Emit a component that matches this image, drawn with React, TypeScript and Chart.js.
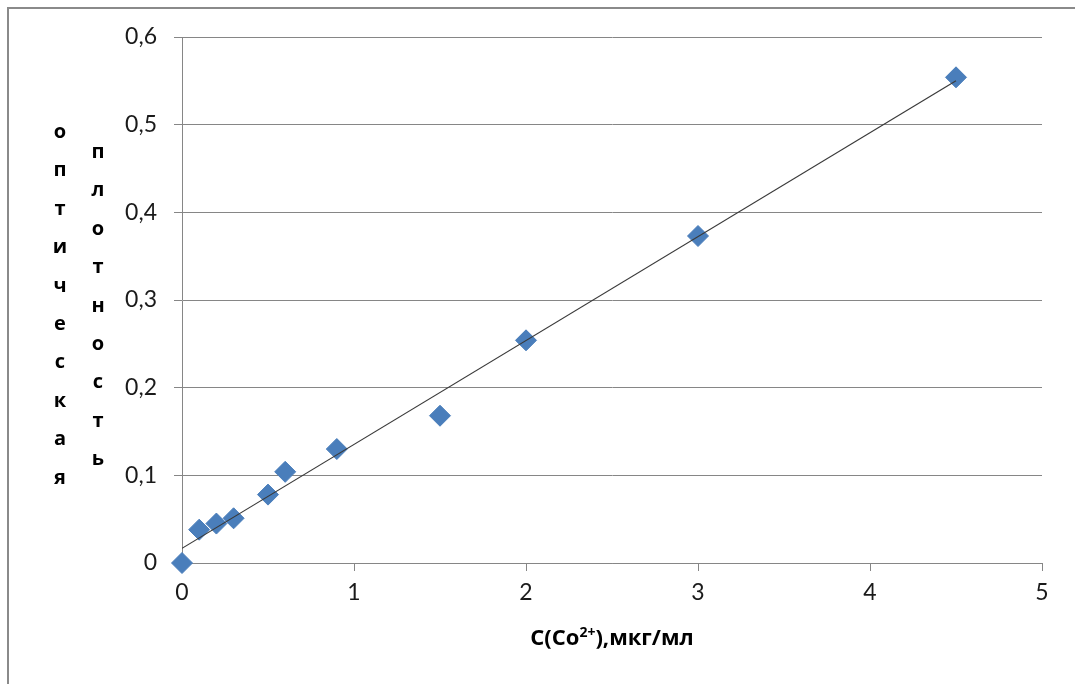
import React, { useEffect, useRef } from "react";
import { Chart, registerables } from "chart.js";

Chart.register(...registerables);

const concX = [0, 0.1, 0.2, 0.3, 0.5, 0.6, 0.9, 1.5, 2, 3, 4.5];
const density = [0, 0.038, 0.045, 0.051, 0.078, 0.104, 0.13, 0.168, 0.254, 0.373, 0.554];
const trendX = [0, 4.5];
const trendY = [0.0167, 0.55];
const xTicks = [0, 1, 2, 3, 4, 5];
const yTicks = [0, 0.1, 0.2, 0.3, 0.4, 0.5, 0.6];
const yTitleCol1 = "оптическая";
const yTitleCol2 = "плотность";
const xTitleParts = ["C(Co", "2+", "),мкг/мл"];

const GRAY = "#868686";

const decorPlugin = {
  id: "decor",
  beforeDraw(chart: any) {
    const ctx = chart.ctx;
    ctx.save();
    ctx.fillStyle = "#ffffff";
    ctx.fillRect(0, 0, chart.width, chart.height);
    ctx.strokeStyle = "#8a8a8a";
    ctx.lineWidth = 2;
    ctx.beginPath();
    ctx.moveTo(8, chart.height + 5);
    ctx.lineTo(8, 8);
    ctx.lineTo(chart.width + 5, 8);
    ctx.stroke();
    ctx.restore();
  },
  afterDraw(chart: any) {
    const ctx = chart.ctx;
    ctx.save();
    ctx.fillStyle = "#000000";
    ctx.font = "bold 20px 'Open Sans'";
    ctx.textAlign = "center";
    ctx.textBaseline = "alphabetic";
    const step = 38.4;
    Array.from(yTitleCol1).forEach((ch, i) => {
      ctx.fillText(ch, 60, 133 + i * step + 5);
    });
    Array.from(yTitleCol2).forEach((ch, i) => {
      ctx.fillText(ch, 98, 153 + i * step + 5);
    });

    // x axis title with superscript
    const area = chart.chartArea;
    const mainFont = "bold 22px 'Open Sans'";
    const supFont = "bold 14px 'Open Sans'";
    ctx.font = mainFont;
    const w1 = ctx.measureText(xTitleParts[0]).width;
    const w3 = ctx.measureText(xTitleParts[2]).width;
    ctx.font = supFont;
    const w2 = ctx.measureText(xTitleParts[1]).width;
    const total = w1 + w2 + w3;
    let x = (area.left + area.right) / 2 - total / 2;
    const baseY = 645;
    ctx.textAlign = "left";
    ctx.font = mainFont;
    ctx.fillText(xTitleParts[0], x, baseY);
    x += w1;
    ctx.font = supFont;
    ctx.fillText(xTitleParts[1], x, baseY - 8);
    x += w2;
    ctx.font = mainFont;
    ctx.fillText(xTitleParts[2], x, baseY);
    ctx.restore();
  },
};

export default function App() {
  const ref = useRef<HTMLCanvasElement | null>(null);

  useEffect(() => {
    document.body.style.margin = "0";
    if (!ref.current) return;
    const chart = new Chart(ref.current, {
      type: "scatter",
      data: {
        datasets: [
          {
            type: "line",
            data: trendX.map((x, i) => ({ x, y: trendY[i] })),
            borderColor: "#3a3a3a",
            borderWidth: 1.2,
            pointRadius: 0,
            fill: false,
          } as any,
          {
            data: concX.map((x, i) => ({ x, y: density[i] })),
            backgroundColor: "#4a7ebb",
            borderColor: "#4a7ebb",
            pointStyle: "rectRot",
            pointRadius: 10.5,
            pointHoverRadius: 10.5,
            clip: false,
          } as any,
        ],
      },
      options: {
        animation: false,
        responsive: false,
        maintainAspectRatio: false,
        layout: { padding: { left: 0, right: 33, top: 37, bottom: 0 } },
        plugins: {
          legend: { display: false },
          tooltip: { enabled: false },
        },
        scales: {
          x: {
            type: "linear",
            min: 0,
            max: 5,
            afterFit: (s: any) => {
              s.height = 121;
            },
            afterBuildTicks: (s: any) => {
              s.ticks = xTicks.map((v) => ({ value: v }));
            },
            ticks: {
              color: "#1a1a1a",
              font: { family: "Lato", size: 23 },
              padding: 8,
              maxRotation: 0,
            },
            grid: {
              drawOnChartArea: false,
              drawTicks: true,
              tickLength: 8,
              color: GRAY,
            },
            border: { display: true, color: GRAY, width: 1 },
          },
          y: {
            type: "linear",
            min: 0,
            max: 0.6,
            afterFit: (s: any) => {
              s.width = 182;
            },
            afterBuildTicks: (s: any) => {
              s.ticks = yTicks.map((v) => ({ value: v }));
            },
            ticks: {
              color: "#1a1a1a",
              font: { family: "Lato", size: 23 },
              padding: 17,
              callback: (v: any) => String(Math.round(Number(v) * 10) / 10).replace(".", ","),
            },
            grid: {
              drawOnChartArea: true,
              drawTicks: true,
              tickLength: 8,
              color: GRAY,
            },
            border: { display: true, color: GRAY, width: 1 },
          },
        },
      },
      plugins: [decorPlugin],
    } as any);
    return () => chart.destroy();
  }, []);

  return (
    <div style={{ width: 1075, height: 684 }}>
      <canvas ref={ref} width={1075} height={684} style={{ display: "block" }} />
    </div>
  );
}
